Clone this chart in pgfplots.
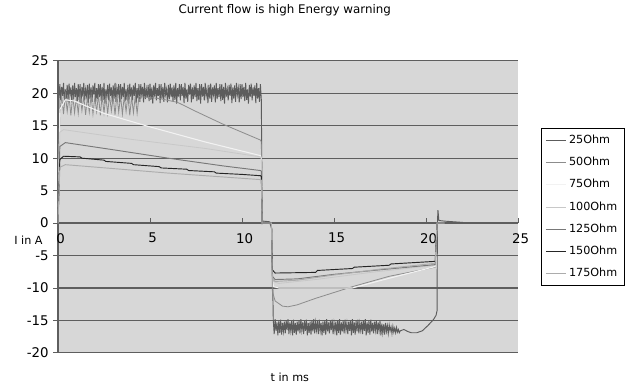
\documentclass[border=0pt]{standalone}
\usepackage{pgfplots}
\pgfplotsset{compat=1.18}
\usepackage{fontspec}
\setmainfont{DejaVu Sans}
\definecolor{bgc}{HTML}{D7D7D7}
\definecolor{gridc}{HTML}{5E5E5E}
\definecolor{cA}{HTML}{5C5C5C}
\definecolor{cB}{HTML}{8C8C8C}
\definecolor{cC}{HTML}{F2F2F2}
\definecolor{cD}{HTML}{C8C8C8}
\definecolor{cE}{HTML}{787878}
\definecolor{cF}{HTML}{262626}
\definecolor{cG}{HTML}{ACACAC}
\begin{document}
\begin{tikzpicture}
\begin{axis}[
  scale only axis, width=345pt, height=219pt,
  xmin=0, xmax=25, ymin=-20, ymax=25,
  axis background/.style={fill=bgc},
  axis x line*=middle, axis y line*=left,
  hide obscured x ticks=false,
  axis line style={gridc, line width=0.9pt},
  xtick={0,5,...,25}, ytick={-20,-15,...,25},
  ymajorgrids, grid style={gridc, line width=0.9pt},
  ytick align=outside, xtick align=inside,
  major tick length=3.5pt,
  tick style={gridc, line width=0.7pt},
  /pgf/number format/assume math mode=true,
  tick label style={font=\fontsize{10}{12}\selectfont},
  x tick label style={yshift=-4pt, xshift=2pt},
  xlabel={t in ms}, ylabel={I in A},
  xlabel style={at={(axis description cs:0.504,0)}, anchor=center, yshift=-18pt, font=\fontsize{8.4}{10}\selectfont},
  ylabel style={at={(axis description cs:0,0.387)}, anchor=east, rotate=-90, xshift=-8pt, font=\fontsize{8.4}{10}\selectfont},
  title={Current flow is high Energy warning},
  title style={at={(axis description cs:0.493,1)}, anchor=center, yshift=32pt, font=\fontsize{8.9}{10}\selectfont},
  legend style={at={(axis description cs:1.05,0.77)}, anchor=north west, draw=black, fill=white, font=\fontsize{8.4}{10}\selectfont, row sep=4.8pt, inner sep=3pt},
  legend cell align=left,
  legend image code/.code={\draw[#1] (0pt,0pt) -- (15pt,0pt);},
]
% 25 Ohm
\addplot[cA, line width=0.7pt] coordinates {
(0,0)(0.05,19)
(0.10,21.4)(0.15,18.9)(0.20,21.0)(0.25,19.6)(0.30,21.6)(0.35,18.5)(0.40,20.6)(0.45,19.2)(0.50,21.3)(0.55,18.7)(0.60,21.5)(0.65,19.8)(0.70,20.9)(0.75,18.6)(0.80,21.2)(0.85,19.1)(0.90,21.6)(0.95,19.4)(1.00,20.8)(1.05,18.8)
(1.10,21.4)(1.15,19.0)(1.20,21.4)(1.25,18.4)(1.30,21.0)(1.35,19.5)(1.40,21.6)(1.45,18.9)(1.50,20.6)(1.55,19.6)(1.60,21.3)(1.65,18.5)(1.70,21.5)(1.75,19.2)(1.80,20.9)(1.85,18.7)(1.90,21.2)(1.95,19.8)(2.00,21.6)(2.05,18.6)
(2.10,20.8)(2.15,19.1)(2.20,21.4)(2.25,19.4)(2.30,21.4)(2.35,18.8)(2.40,21.0)(2.45,19.0)(2.50,21.6)(2.55,18.4)(2.60,20.6)(2.65,19.5)(2.70,21.3)(2.75,18.9)(2.80,21.5)(2.85,19.6)(2.90,20.9)(2.95,18.5)(3.00,21.2)(3.05,19.2)
(3.10,21.6)(3.15,18.7)(3.20,20.8)(3.25,19.8)(3.30,21.4)(3.35,18.6)(3.40,21.4)(3.45,19.1)(3.50,21.0)(3.55,19.4)(3.60,21.6)(3.65,18.8)(3.70,20.6)(3.75,19.0)(3.80,21.3)(3.85,18.4)(3.90,21.5)(3.95,19.5)(4.00,20.9)(4.05,18.9)
(4.10,21.2)(4.15,19.6)(4.20,21.6)(4.25,18.5)(4.30,20.8)(4.35,19.2)(4.40,21.4)(4.45,18.7)(4.50,21.4)(4.55,19.8)(4.60,21.0)(4.65,18.6)(4.70,21.6)(4.75,19.1)(4.80,20.6)(4.85,19.4)(4.90,21.3)(4.95,18.8)(5.00,21.5)(5.05,19.0)
(5.10,20.9)(5.15,18.4)(5.20,21.2)(5.25,19.5)(5.30,21.6)(5.35,18.9)(5.40,20.8)(5.45,19.6)(5.50,21.4)(5.55,18.5)(5.60,21.4)(5.65,19.2)(5.70,21.0)(5.75,18.7)(5.80,21.6)(5.85,19.8)(5.90,20.6)(5.95,18.6)(6.00,21.3)(6.05,19.1)
(6.10,21.5)(6.15,19.4)(6.20,20.9)(6.25,18.8)(6.30,21.2)(6.35,19.0)(6.40,21.6)(6.45,18.4)(6.50,20.8)(6.55,19.5)(6.60,21.4)(6.65,18.9)(6.70,21.4)(6.75,19.6)(6.80,21.0)(6.85,18.5)(6.90,21.6)(6.95,19.2)(7.00,20.6)(7.05,18.7)
(7.10,21.3)(7.15,19.8)(7.20,21.5)(7.25,18.6)(7.30,20.9)(7.35,19.1)(7.40,21.2)(7.45,19.4)(7.50,21.6)(7.55,18.8)(7.60,20.8)(7.65,19.0)(7.70,21.4)(7.75,18.4)(7.80,21.4)(7.85,19.5)(7.90,21.0)(7.95,18.9)(8.00,21.6)(8.05,19.6)
(8.10,20.6)(8.15,18.5)(8.20,21.3)(8.25,19.2)(8.30,21.5)(8.35,18.7)(8.40,20.9)(8.45,19.8)(8.50,21.2)(8.55,18.6)(8.60,21.6)(8.65,19.1)(8.70,20.8)(8.75,19.4)(8.80,21.4)(8.85,18.8)(8.90,21.4)(8.95,19.0)(9.00,21.0)(9.05,18.4)
(9.10,21.6)(9.15,19.5)(9.20,20.6)(9.25,18.9)(9.30,21.3)(9.35,19.6)(9.40,21.5)(9.45,18.5)(9.50,20.9)(9.55,19.2)(9.60,21.2)(9.65,18.7)(9.70,21.6)(9.75,19.8)(9.80,20.8)(9.85,18.6)(9.90,21.4)(9.95,19.1)(10.00,21.4)(10.05,19.4)
(10.10,21.0)(10.15,18.8)(10.20,21.6)(10.25,19.0)(10.30,20.6)(10.35,18.4)(10.40,21.3)(10.45,19.5)(10.50,21.5)(10.55,18.9)(10.60,20.9)(10.65,19.6)(10.70,21.2)(10.75,18.5)(10.80,21.6)(10.85,19.2)(10.90,20.8)(10.95,18.7)(11.00,21.4)(11.05,19.0)
(11.1,0)(11.15,0.3)(11.5,0.2)(11.62,-1)
(11.70,-15.0)(11.75,-17.1)(11.80,-14.8)(11.85,-16.6)(11.90,-15.3)(11.95,-17.3)(12.00,-15.1)(12.05,-16.9)(12.10,-14.9)(12.15,-17.2)(12.20,-15.4)(12.25,-16.7)(12.30,-15.2)(12.35,-17.0)(12.40,-15.0)(12.45,-16.5)(12.50,-14.8)(12.55,-17.1)(12.60,-15.3)(12.65,-16.6)
(12.70,-15.1)(12.75,-17.3)(12.80,-14.9)(12.85,-16.9)(12.90,-15.4)(12.95,-17.2)(13.00,-15.2)(13.05,-16.7)(13.10,-15.0)(13.15,-17.0)(13.20,-14.8)(13.25,-16.5)(13.30,-15.3)(13.35,-17.1)(13.40,-15.1)(13.45,-16.6)(13.50,-14.9)(13.55,-17.3)(13.60,-15.4)(13.65,-16.9)
(13.70,-15.2)(13.75,-17.2)(13.80,-15.0)(13.85,-16.7)(13.90,-14.8)(13.95,-17.0)(14.00,-15.3)(14.05,-16.5)(14.10,-15.1)(14.15,-17.1)(14.20,-14.9)(14.25,-16.6)(14.30,-15.4)(14.35,-17.3)(14.40,-15.2)(14.45,-16.9)(14.50,-15.0)(14.55,-17.2)(14.60,-14.8)(14.65,-16.7)
(14.70,-15.3)(14.75,-17.0)(14.80,-15.1)(14.85,-16.5)(14.90,-14.9)(14.95,-17.1)(15.00,-15.4)(15.05,-16.6)(15.10,-15.2)(15.15,-17.3)(15.20,-15.0)(15.25,-16.9)(15.30,-14.8)(15.35,-17.2)(15.40,-15.3)(15.45,-16.7)(15.50,-15.1)(15.55,-17.0)(15.60,-14.9)(15.65,-16.5)
(15.70,-15.4)(15.75,-17.1)(15.80,-15.2)(15.85,-16.6)(15.90,-15.0)(15.95,-17.3)(16.00,-14.8)(16.05,-16.9)(16.10,-15.3)(16.15,-17.2)(16.20,-15.1)(16.25,-16.7)(16.30,-14.9)(16.35,-17.0)(16.40,-15.4)(16.45,-16.5)(16.50,-15.2)(16.55,-17.1)(16.60,-15.0)(16.65,-16.6)
(16.70,-14.8)(16.75,-17.3)(16.80,-15.3)(16.85,-16.9)(16.90,-15.1)(16.95,-17.2)(17.00,-14.9)(17.05,-16.7)(17.10,-15.4)(17.15,-17.0)(17.20,-15.2)(17.25,-16.5)(17.30,-15.0)(17.35,-17.1)(17.40,-15.3)(17.45,-16.6)(17.50,-15.1)(17.55,-17.3)(17.60,-15.5)(17.65,-16.9)
(17.70,-15.6)(17.75,-17.2)(17.80,-15.4)(17.85,-16.7)(17.90,-15.8)(17.95,-17.0)(18.00,-15.7)(18.05,-16.6)(18.10,-16.0)(18.15,-17.0)(18.20,-15.9)(18.25,-16.8)(18.30,-16.2)(18.35,-16.9)(18.40,-16.1)(18.45,-16.8)(18.50,-16.4)(18.55,-16.9)(18.60,-16.6)
(18.8,-16.4)(19.0,-16.7)(19.2,-16.9)(19.5,-16.9)(19.8,-16.6)(20.1,-15.8)(20.4,-14.9)(20.55,-14.2)(20.6,-13.5)
(20.62,0)(20.65,2.0)(20.7,0.4)(21.0,0.3)(21.5,0.2)(22.0,0.1)
};
\addlegendentry{25Ohm}
% 50 Ohm
\addplot[cB, line width=0.6pt] coordinates {
(0,0)(0.1,17)
(0.2,19.6)(0.3,16.8)(0.4,19.8)(0.5,17.2)(0.6,19.5)(0.7,16.6)(0.8,19.7)(0.9,17.0)(1.0,19.4)(1.1,16.9)
(1.2,19.8)(1.3,17.3)(1.4,19.6)(1.5,16.7)(1.6,19.5)(1.7,17.1)(1.8,19.7)(1.9,16.8)(2.0,19.4)(2.1,17.2)
(2.2,19.8)(2.3,16.6)(2.4,19.6)(2.5,17.0)(2.6,19.5)(2.7,16.9)(2.8,19.7)(2.9,17.3)(3.0,19.4)(3.1,16.7)
(3.2,19.8)(3.3,17.1)(3.4,19.6)(3.5,16.8)(3.6,19.5)(3.7,17.2)(3.8,19.7)(3.9,16.6)(4.0,19.4)(4.1,17.0)
(4.2,19.6)(4.3,16.9)(4.4,19.5)
(5.5,19.2)(6.5,18.6)(7.5,17.2)(9.0,15.2)(11.0,12.8)
(11.05,12.5)(11.1,0)(11.6,0)(11.65,-10.5)(11.8,-12.0)(12.2,-12.8)(12.5,-12.9)(13.0,-12.6)(14.0,-11.6)(16.0,-9.8)(18.0,-8.2)(20.5,-6.8)
(20.6,0)(21.0,0)
};
\addlegendentry{50Ohm}
% 75 Ohm
\addplot[cC, line width=0.8pt] coordinates {
(0,0)(0.1,17.5)(0.4,19.0)(0.9,18.8)(2.5,16.9)(4.9,14.9)(8.0,12.5)(11.0,10.4)
(11.05,10)(11.1,0)(11.6,0)(11.7,-9.8)(12.0,-10.0)(16.0,-10.0)(18.0,-8.5)(20.5,-6.7)
(20.6,0)(21.0,0)
};
\addlegendentry{75Ohm}
% 100 Ohm
\addplot[cD, line width=0.6pt] coordinates {
(0,0)(0.1,14.0)(0.3,14.4)(4.0,12.9)(8.0,11.5)(11.0,10.2)
(11.05,10)(11.1,0)(11.6,0)(11.7,-9.0)(12.0,-9.3)(14.0,-8.7)(17.0,-7.6)(20.5,-6.5)
(20.6,0)(21.0,0)
};
\addlegendentry{100Ohm}
% 125 Ohm
\addplot[cE, line width=0.7pt] coordinates {
(0,0)(0.1,11.8)(0.4,12.4)(3.0,11.3)(6.0,10.0)(9.0,8.8)(11.0,8.1)
(11.05,8)(11.1,0)(11.6,0)(11.65,-8.2)(11.8,-8.7)(13.0,-8.6)(15.0,-7.9)(17.5,-7.2)(20.5,-6.4)
(20.6,0)(21.0,0)
};
\addlegendentry{125Ohm}
% 150 Ohm
\addplot[cF, line width=0.7pt] coordinates {
(0,0)(0.1,9.8)(0.3,10.3)(1.2,10.2)(1.3,10.0)(2.5,9.7)(2.6,9.5)(4.0,9.2)(4.1,9.0)(5.5,8.7)(5.6,8.5)
(7.0,8.3)(7.1,8.1)(8.5,7.9)(8.6,7.7)(10.0,7.5)(11.0,7.3)
(11.05,7.2)(11.1,0)(11.6,0)(11.65,-7.2)(11.8,-7.7)(14.0,-7.6)(14.1,-7.3)(16.0,-7.0)(16.1,-6.8)(18.0,-6.5)(18.1,-6.3)(20.5,-5.9)
(20.6,0)(21.0,0)
};
\addlegendentry{150Ohm}
% 175 Ohm
\addplot[cG, line width=0.7pt] coordinates {
(0,0)(0.1,8.6)(0.4,9.0)(3.0,8.4)(6.0,7.7)(9.0,7.1)(11.0,6.7)
(11.05,6.6)(11.1,0)(11.6,0)(11.65,-8.6)(11.8,-9.0)(13.0,-8.8)(15.0,-8.0)(17.5,-7.1)(20.5,-6.2)
(20.6,0)(21.0,0)
};
\addlegendentry{175Ohm}
\end{axis}
\path[use as bounding box] (-43.5pt,-24.75pt) rectangle (429.75pt,262.5pt);
\end{tikzpicture}
\end{document}
